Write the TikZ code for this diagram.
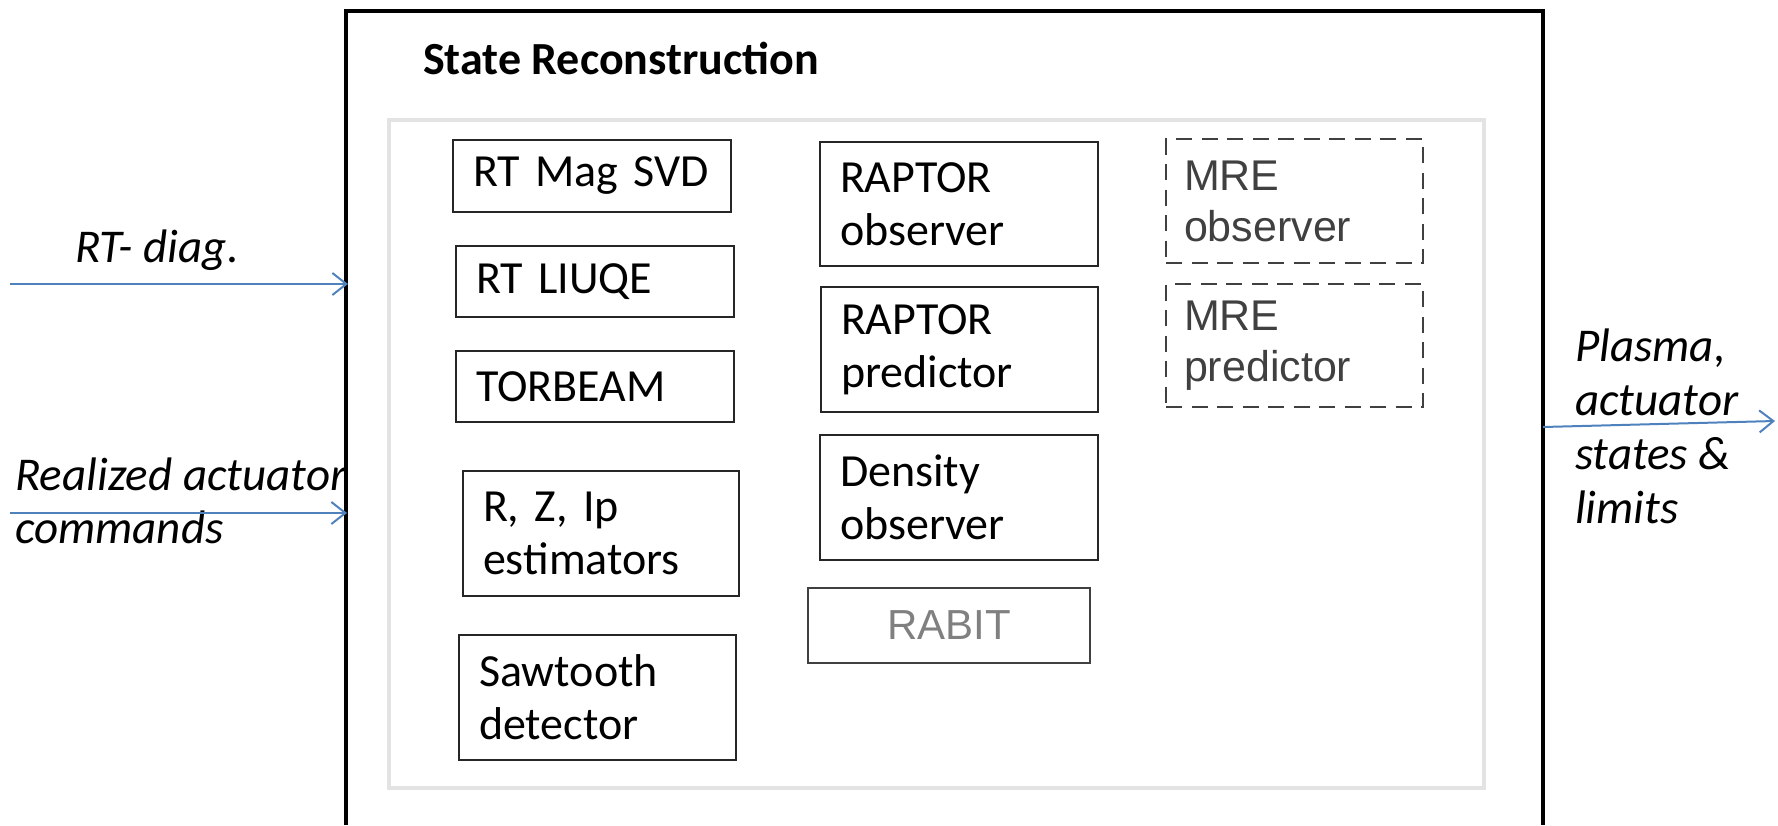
\documentclass[tikz,border=0pt]{standalone}
\usepackage{fontspec}
\setmainfont{Carlito}
\newfontfamily\arialf{Liberation Sans}
\usetikzlibrary{arrows.meta}
\definecolor{boxline}{HTML}{262626}
\definecolor{panelgray}{HTML}{E3E3E3}
\definecolor{flowblue}{HTML}{4F81BD}
\definecolor{draftgray}{HTML}{404040}
\definecolor{dimgray}{HTML}{808080}
\begin{document}
\begin{tikzpicture}[x=1pt,y=-1pt,
  blk/.style={draw=boxline, line width=2pt, inner xsep=20pt, inner ysep=0pt,
    align=left, font=\fontsize{46}{53}\selectfont},
  draftblk/.style={draw=draftgray, line width=2pt, dash pattern=on 16pt off 9.5pt,
    inner xsep=18pt, inner ysep=0pt, align=left, text=draftgray,
    font=\arialf\fontsize{43}{51}\selectfont},
  greyblk/.style={draw=draftgray, line width=2pt, inner sep=0pt, text=dimgray,
    font=\arialf\fontsize{42}{50}\selectfont},
  lbl/.style={inner sep=0pt, align=left, anchor=base west,
    font=\itshape\fontsize{47}{53}\selectfont},
  flow/.style={draw=flowblue, line width=2pt,
    -{Straight Barb[length=14pt,width=22pt]}},
]
\useasboundingbox (0,0) rectangle (1778,825);

% outer frame, open at the bottom
\draw[line width=4pt] (346,825) -- (346,11) -- (1543,11) -- (1543,825);
\node[inner sep=0pt, anchor=base west, font=\bfseries\fontsize{46}{52}\selectfont]
  (title) at (423,74) {State Reconstruction};

% light panel holding the modules
\draw[panelgray, line width=4pt] (389,120) rectangle (1484,788);

% first column
\node[blk, text width=238pt, minimum height=72pt] (magsvd) at (592,176) {RT Mag SVD};
\node[blk, text width=238pt, minimum height=71pt] (liuqe) at (595,281.5) {RT LIUQE};
\node[blk, text width=238pt, minimum height=71pt] (torbeam) at (595,386.5) {TORBEAM};
\node[blk, text width=236pt, minimum height=125pt] (rzip) at (601,533.5) {R, Z, Ip\\estimators};
\node[blk, text width=237pt, minimum height=125pt] (saw) at (597.5,697.5) {Sawtooth\\detector};

% second column
\node[blk, text width=238pt, minimum height=124pt] (rapobs) at (959,204) {RAPTOR\\observer};
\node[blk, text width=237pt, minimum height=125pt] (rappred) at (959.5,349.5) {RAPTOR\\predictor};
\node[blk, text width=238pt, minimum height=125pt] (dens) at (959,497.5) {Density\\observer};
\node[greyblk, minimum width=282pt, minimum height=75pt] (rabit) at (949,625.5) {RABIT};

% third column (planned modules)
\node[draftblk, text width=221pt, minimum height=124pt] (mreobs) at (1294.5,201) {MRE\\observer};
\node[draftblk, text width=221pt, minimum height=123pt] (mrepred) at (1294.5,345.5) {MRE\\predictor};

% inputs and outputs (anchored on the baseline of the last line)
\node[lbl] (diag) at (75,262) {RT- diag.};
\node[lbl] (act) at (15,543) {Realized actuator\\commands};
\node[lbl, font=\itshape\fontsize{47}{54}\selectfont] (out) at (1575,523)
  {Plasma,\\actuator\\states \&\\limits};

\coordinate (diagin) at (10,284);
\coordinate (diagend) at (348,284);
\coordinate (actin) at (10,513);
\coordinate (actend) at (347,513);
\coordinate (outstart) at (1543,427);
\coordinate (outend) at (1775,421);

\draw[flow] (diagin) -- (diagend);
\draw[flow] (actin) -- (actend);
\draw[flow] (outstart) -- (outend);
\end{tikzpicture}
\end{document}
